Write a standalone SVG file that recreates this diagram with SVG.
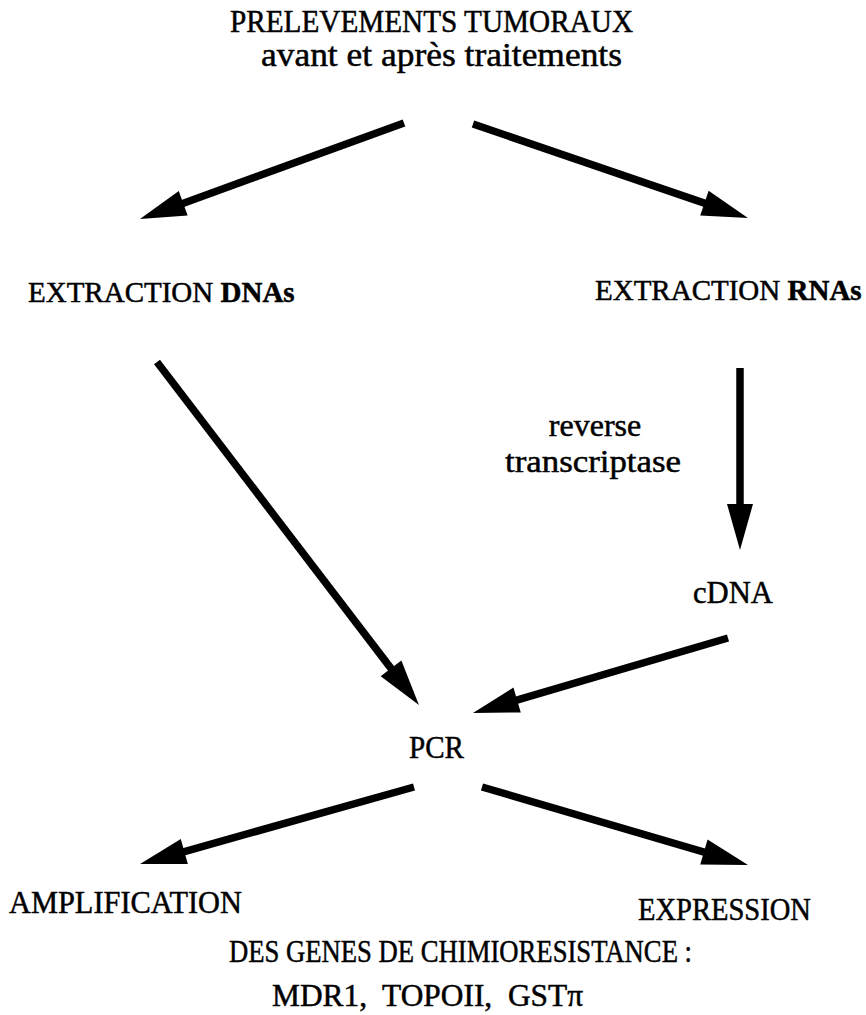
<svg xmlns="http://www.w3.org/2000/svg" width="866" height="1015" viewBox="0 0 866 1015">
<style>
text { font-family: "Liberation Serif", "Times New Roman", serif; fill: #000; stroke: #000; stroke-width: 0.5; }
.cap { font-size: 31px; }
.ext { font-size: 29px; }
.low { font-size: 34px; }
.b { font-weight: bold; }
.arrow { stroke: #000; stroke-width: 7.5; fill: none; stroke-linecap: butt; marker-end: url(#head); }
</style>
<defs>
<marker id="head" markerUnits="userSpaceOnUse" markerWidth="46" markerHeight="26" refX="10" refY="13" orient="auto" overflow="visible">
<path d="M0,0 L46,13 L0,26 z" fill="#000"/>
</marker>
</defs>
<rect width="866" height="1015" fill="#fff"/>

<g id="connectors">
<line class="arrow" x1="404" y1="123" x2="173.8" y2="206.7"/>
<line class="arrow" x1="473" y1="124" x2="713.9" y2="206.4"/>
<line class="arrow" x1="157" y1="362" x2="397.1" y2="676.4"/>
<line class="arrow" x1="740" y1="368" x2="740" y2="514"/>
<line class="arrow" x1="728" y1="638" x2="507.5" y2="702.8"/>
<line class="arrow" x1="414" y1="787" x2="174.7" y2="854.3"/>
<line class="arrow" x1="482" y1="787" x2="713.5" y2="854.9"/>
</g>

<g id="prelevements">
<text class="cap" x="230" y="32" textLength="403" lengthAdjust="spacingAndGlyphs">PRELEVEMENTS TUMORAUX</text>
<text class="low" x="261" y="66" textLength="361" lengthAdjust="spacingAndGlyphs">avant et après traitements</text>
</g>

<g id="extraction-dna">
<text class="ext" x="28" y="302">EXTRACTION <tspan class="b">DNAs</tspan></text>
</g>

<g id="extraction-rna">
<text class="ext" x="595" y="300">EXTRACTION <tspan class="b">RNAs</tspan></text>
</g>

<g id="reverse-transcriptase">
<text class="low" x="595" y="436" text-anchor="middle" style="font-size:32px">reverse</text>
<text class="low" x="593" y="472" text-anchor="middle" style="font-size:32px" textLength="176" lengthAdjust="spacingAndGlyphs">transcriptase</text>
</g>

<g id="cdna">
<text class="cap" x="693" y="603" textLength="80" lengthAdjust="spacingAndGlyphs">cDNA</text>
</g>

<g id="pcr">
<text class="cap" x="409" y="758" textLength="55" lengthAdjust="spacingAndGlyphs">PCR</text>
</g>

<g id="amplification">
<text class="cap" x="9" y="913" style="font-size:32px" textLength="233" lengthAdjust="spacingAndGlyphs">AMPLIFICATION</text>
</g>

<g id="expression">
<text class="cap" x="638" y="920" style="font-size:32px" textLength="173" lengthAdjust="spacingAndGlyphs">EXPRESSION</text>
</g>

<g id="genes">
<text class="cap" x="229" y="962" style="font-size:32px" textLength="463" lengthAdjust="spacingAndGlyphs">DES GENES DE CHIMIORESISTANCE :</text>
<text class="cap" x="272" y="1006" xml:space="preserve" textLength="311" lengthAdjust="spacingAndGlyphs">MDR1,  TOPOII,  GSTπ</text>
</g>
</svg>
